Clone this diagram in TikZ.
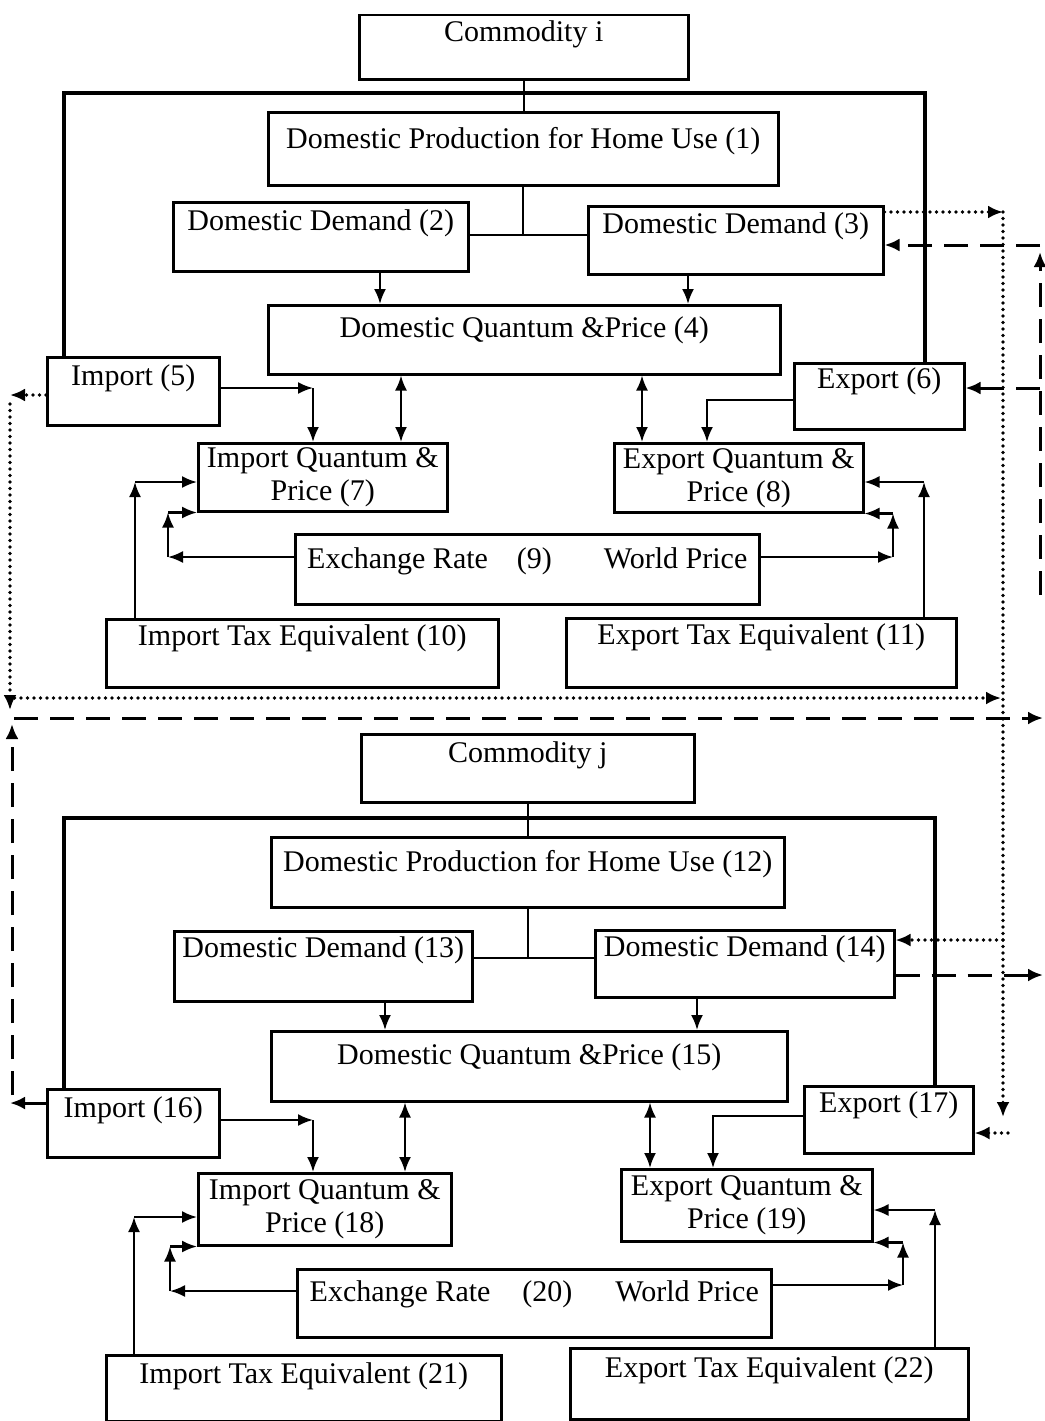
\documentclass[tikz,border=0pt]{standalone}
\usepackage{fontspec}
\setmainfont{Liberation Serif}
\usetikzlibrary{arrows.meta}

\begin{document}
\begin{tikzpicture}[x=1pt, y=-1pt,
    blk/.style={draw, line width=2.5pt, inner sep=0pt, anchor=north west, font=\fontsize{30}{33}\selectfont},
    frame/.style={line width=4.5pt},
    ln/.style={line width=2.2pt},
    arr/.style={line width=2.2pt, -{Latex[length=15pt,width=12pt]}},
    darr/.style={line width=2.2pt, {Latex[length=15pt,width=12pt]}-{Latex[length=15pt,width=12pt]}},
    dot/.style={line width=3.6pt, line cap=round, dash pattern=on 0pt off 6.5pt, -{Latex[length=15pt,width=13pt]}},
    dsh/.style={line width=3pt, dash pattern=on 24pt off 12pt, -{Latex[length=15pt,width=13pt]}}]
        \useasboundingbox (0,0) rectangle (1044,1421);

        % commodity i
        \node[blk, minimum width=329pt, text height=26pt, text depth=38pt] (ci) at (358,14) {Commodity i};
        \node[blk, minimum width=510pt, text height=36pt, text depth=37pt] (dp1) at (267,111) {Domestic Production for Home Use (1)};
        \node[blk, minimum width=295pt, text height=28pt, text depth=41pt] (dd2) at (172,201) {Domestic Demand (2)};
        \node[blk, minimum width=295pt, text height=27pt, text depth=41pt] (dd3) at (587,205) {Domestic Demand (3)};
        \node[blk, minimum width=512pt, text height=32pt, text depth=37pt] (dq4) at (267,304) {Domestic Quantum \&Price (4)};
        \node[blk, minimum width=172pt, text height=28pt, text depth=40pt] (imp5) at (46,356) {Import (5)};
        \node[blk, minimum width=170pt, text height=25pt, text depth=41pt] (exp6) at (793,362) {Export (6)};
        \node[blk, minimum width=249pt, minimum height=68pt, align=center] (iq7) at (197,442) {Import Quantum \&\\Price (7)};
        \node[blk, minimum width=249pt, minimum height=69pt, align=center] (eq8) at (613,442) {Export Quantum \&\\Price (8)};
        \node[blk, minimum width=464pt, text height=34pt, text depth=36pt] (er9) at (294,533) {Exchange Rate\hspace{29pt}(9)\hspace{52pt}World Price};
        \node[blk, minimum width=392pt, text height=26pt, text depth=42pt] (it10) at (105,618) {Import Tax Equivalent (10)};
        \node[blk, minimum width=390pt, text height=26pt, text depth=43pt] (et11) at (565,617) {Export Tax Equivalent (11)};

        \coordinate (f1) at (64,93);
        \coordinate (f2) at (925,93);
        \draw[frame] (imp5.north -| f1) -- (f1) -- (f2) -- (exp6.north -| f2);
        \draw[ln] (ci.south) -- (ci.south |- dp1.north);
        \coordinate (j1) at (522,235);
        \draw[ln] (dp1.south) -- (dp1.south |- j1);
        \draw[ln] (dd2.east |- j1) -- (dd3.west |- j1);
        \coordinate (k2) at (380,0);
        \draw[arr] (dd2.south -| k2) -- (dq4.north -| k2);
        \coordinate (k3) at (688,0);
        \draw[arr] (dd3.south -| k3) -- (dq4.north -| k3);

        \coordinate (k5) at (313,388);
        \draw[arr] (imp5.east |- k5) -- (k5);
        \draw[arr] (k5) -- (iq7.north -| k5);
        \coordinate (k7) at (401,0);
        \draw[darr] (dq4.south -| k7) -- (iq7.north -| k7);
        \coordinate (k8) at (642,0);
        \draw[darr] (dq4.south -| k8) -- (eq8.north -| k8);
        \coordinate (k6) at (707,400);
        \draw[arr] (exp6.west |- k6) -| (eq8.north -| k6);

        \coordinate (k9) at (168,557);
        \draw[arr] (er9.west |- k9) -- (k9);
        \draw[arr] (k9) -- (iq7.south -| k9);
        \draw[arr] (iq7.south -| k9) -- (iq7.south west);
        \coordinate (k10) at (135,482);
        \draw[arr] (it10.north -| k10) -- (k10);
        \draw[arr] (k10) -- (iq7.west |- k10);
        \coordinate (k9r) at (893,557);
        \draw[arr] (er9.east |- k9r) -- (k9r);
        \draw[arr] (k9r) -- (eq8.south -| k9r);
        \draw[arr] (eq8.south -| k9r) -- (eq8.south east);
        \coordinate (k11) at (924,482);
        \draw[arr] (et11.north -| k11) -- (k11);
        \draw[arr] (k11) -- (eq8.east |- k11);

        % commodity j
        \node[blk, minimum width=333pt, text height=28pt, text depth=40pt] (cj) at (360,733) {Commodity j};
        \node[blk, minimum width=513pt, text height=34pt, text depth=36pt] (dp12) at (270,836) {Domestic Production for Home Use (12)};
        \node[blk, minimum width=298pt, text height=26pt, text depth=44pt] (dd13) at (173,930) {Domestic Demand (13)};
        \node[blk, minimum width=299pt, text height=26pt, text depth=41pt] (dd14) at (594,929) {Domestic Demand (14)};
        \node[blk, minimum width=516pt, text height=33pt, text depth=37pt] (dq15) at (270,1030) {Domestic Quantum \&Price (15)};
        \node[blk, minimum width=172pt, text height=28pt, text depth=40pt] (imp16) at (46,1088) {Import (16)};
        \node[blk, minimum width=169pt, text height=26pt, text depth=41pt] (exp17) at (803,1085) {Export (17)};
        \node[blk, minimum width=253pt, minimum height=72pt, align=center] (iq18) at (197,1172) {Import Quantum \&\\Price (18)};
        \node[blk, minimum width=251pt, minimum height=72pt, align=center] (eq19) at (620,1168) {Export Quantum \&\\Price (19)};
        \node[blk, minimum width=474pt, text height=32pt, text depth=36pt] (er20) at (296,1268) {Exchange Rate\hspace{32pt}(20)\hspace{43pt}World Price};
        \node[blk, minimum width=395pt, text height=28pt, text depth=38pt] (it21) at (105,1354) {Import Tax Equivalent (21)};
        \node[blk, minimum width=398pt, text height=29pt, text depth=42pt] (et22) at (569,1347) {Export Tax Equivalent (22)};

        \coordinate (g1) at (64,818);
        \coordinate (g2) at (935,818);
        \draw[frame] (imp16.north -| g1) -- (g1) -- (g2) -- (exp17.north -| g2);
        \draw[ln] (cj.south) -- (cj.south |- dp12.north);
        \coordinate (j2) at (526,958);
        \draw[ln] (dp12.south) -- (dp12.south |- j2);
        \draw[ln] (dd13.east |- j2) -- (dd14.west |- j2);
        \coordinate (m13) at (385,0);
        \draw[arr] (dd13.south -| m13) -- (dq15.north -| m13);
        \coordinate (m14) at (697,0);
        \draw[arr] (dd14.south -| m14) -- (dq15.north -| m14);

        \coordinate (m16) at (313,1120);
        \draw[arr] (imp16.east |- m16) -- (m16);
        \draw[arr] (m16) -- (iq18.north -| m16);
        \coordinate (m18) at (405,0);
        \draw[darr] (dq15.south -| m18) -- (iq18.north -| m18);
        \coordinate (m19) at (650,0);
        \draw[darr] (dq15.south -| m19) -- (eq19.north -| m19);
        \coordinate (m17) at (713,1116);
        \draw[arr] (exp17.west |- m17) -| (eq19.north -| m17);

        \coordinate (m20) at (170,1291);
        \draw[arr] (er20.west |- m20) -- (m20);
        \draw[arr] (m20) -- (iq18.south -| m20);
        \draw[arr] (iq18.south -| m20) -- (iq18.south west);
        \coordinate (m21) at (134,1217);
        \draw[arr] (it21.north -| m21) -- (m21);
        \draw[arr] (m21) -- (iq18.west |- m21);
        \coordinate (m20r) at (903,1285);
        \draw[arr] (er20.east |- m20r) -- (m20r);
        \draw[arr] (m20r) -- (eq19.south -| m20r);
        \draw[arr] (eq19.south -| m20r) -- (eq19.south east);
        \coordinate (m22) at (935,1210);
        \draw[arr] (et22.north -| m22) -- (m22);
        \draw[arr] (m22) -- (eq19.east |- m22);

        % dotted links
        \coordinate (p1) at (1003,212);
        \coordinate (p2) at (1003,1117);
        \draw[dot] (dd3.east |- p1) -- (p1);
        \draw[dot] (p1) -- (p2);
        \coordinate (p3) at (1003,940);
        \draw[dot] (p3) -- (dd14.east |- p3);
        \coordinate (p4) at (1008,1133);
        \draw[dot] (p4) -- (exp17.east |- p4);
        \coordinate (q1) at (10,395);
        \draw[dot] (imp5.west |- q1) -- (q1);
        \coordinate (q2) at (10,404);
        \coordinate (q3) at (10,710);
        \draw[dot] (q2) -- (q3);
        \coordinate (q4) at (8,698);
        \coordinate (q5) at (1001,698);
        \draw[dot] (q4) -- (q5);

        % dashed links
        \coordinate (r1) at (1040,245);
        \draw[dsh] (r1) -- (dd3.east |- r1);
        \coordinate (r2) at (1040,595);
        \coordinate (r3) at (1040,252);
        \draw[dsh] (r2) -- (r3);
        \coordinate (r4) at (1040,388);
        \draw[dsh] (r4) -- (exp6.east |- r4);
        \coordinate (s1) at (14,718);
        \coordinate (s2) at (1043,718);
        \draw[dsh] (s1) -- (s2);
        \coordinate (s3) at (12,1095);
        \coordinate (s4) at (12,724);
        \draw[dsh] (s3) -- (s4);
        \coordinate (s5) at (10,1103);
        \draw[dsh] (imp16.west |- s5) -- (s5);
        \coordinate (s6) at (1043,975);
        \draw[dsh] (dd14.east |- s6) -- (s6);
    \end{tikzpicture}
\end{document}
